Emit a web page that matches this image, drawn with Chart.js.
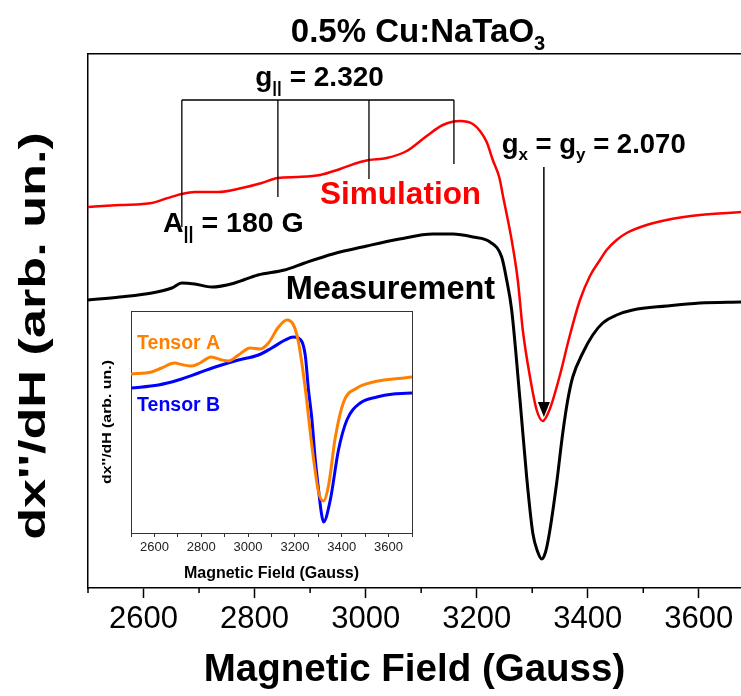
<!DOCTYPE html>
<html>
<head>
<meta charset="utf-8">
<title>0.5% Cu:NaTaO3 EPR</title>
<script src="https://cdn.jsdelivr.net/npm/chart.js@4.4.1/dist/chart.umd.min.js"></script>
<style>
  html, body { margin: 0; padding: 0; background: #fff; overflow: hidden; }
  #wrap { position: relative; width: 741px; height: 696px; }
  #mainChart { position: absolute; left: 0; top: 0; }
  #insetChart { position: absolute; left: 95px; top: 300px; }
</style>
</head>
<body>
<div id="wrap">
  <canvas id="mainChart" width="741" height="696"></canvas>
  <canvas id="insetChart" width="330" height="290"></canvas>
</div>
<script>
const FONT = '"Liberation Sans", Arial, Helvetica, sans-serif';

// main panel: field in gauss, signal in arb. un. (traces stacked)
const simField = [2500, 2557, 2615, 2638, 2669, 2692, 2734, 2777, 2813, 2842, 2878, 2918, 2954, 2990, 3006,
  3038, 3074, 3110, 3139, 3170, 3193, 3206, 3218, 3229, 3241, 3247, 3263, 3274, 3283, 3296,
  3308, 3319, 3331, 3349, 3367, 3386, 3404, 3422, 3434, 3452, 3470, 3506, 3542, 3602, 3676];
const simSignal = [38.1, 38.3, 38.5, 38.9, 39.4, 39.6, 39.6, 40.0, 40.5, 41.0, 41.1, 41.3, 41.9, 42.6, 42.8,
  43.0, 43.7, 45.2, 46.3, 46.7, 46.4, 45.7, 44.6, 42.8, 41.0, 39.3, 34.8, 30.8, 25.8, 21.1,
  17.8, 16.7, 17.8, 21.1, 25.1, 28.8, 31.2, 32.8, 33.8, 34.8, 35.5, 36.3, 36.8, 37.3, 37.6];

const measField = [2500, 2557, 2615, 2651, 2669, 2692, 2723, 2764, 2806, 2854, 2890, 2941, 3002, 3061, 3121,
  3157, 3193, 3224, 3245, 3254, 3263, 3278, 3290, 3301, 3310, 3317, 3324, 3331, 3344, 3355,
  3364, 3373, 3391, 3409, 3427, 3452, 3481, 3542, 3602, 3676];
const measSignal = [28.8, 29.1, 29.5, 30.0, 30.5, 30.4, 30.1, 30.5, 31.3, 31.8, 32.5, 33.4, 34.2, 34.9, 35.4,
  35.4, 35.1, 34.6, 33.1, 30.8, 27.8, 18.8, 11.1, 5.5, 3.6, 2.9, 3.6, 5.5, 10.5, 15.5,
  18.8, 21.1, 23.5, 25.3, 26.5, 27.3, 27.8, 28.2, 28.5, 28.6];

const fieldTicks = [2600, 2800, 3000, 3200, 3400, 3600];
const fieldMinorTicks = [2500, 2700, 2900, 3100, 3300, 3500];

// inset: the two tensor components
const tensorAField = [2500, 2588, 2631, 2685, 2724, 2760, 2795, 2842, 2888, 2916, 2959, 3009, 3052, 3087, 3130,
  3166, 3194, 3215, 3244, 3272, 3301, 3322, 3344, 3372, 3408, 3465, 3536, 3621, 3700];
const tensorASignal = [15.9, 16.1, 16.5, 17.0, 16.8, 16.7, 17.0, 17.6, 17.3, 17.2, 17.8, 18.5, 18.4, 19.0, 20.6,
  21.3, 20.8, 19.1, 14.5, 8.8, 4.1, 3.2, 4.8, 9.5, 13.1, 14.5, 15.1, 15.4, 15.6];

const tensorBField = [2500, 2617, 2702, 2788, 2873, 2959, 3044, 3101, 3158, 3194, 3215, 3244, 3258, 3272, 3287,
  3301, 3313, 3322, 3351, 3386, 3422, 3479, 3550, 3621, 3700];
const tensorBSignal = [14.5, 14.8, 15.3, 16.0, 16.7, 17.3, 17.8, 18.5, 19.3, 19.6, 19.5, 17.8, 14.3, 11.5, 7.3,
  4.3, 2.0, 1.1, 3.3, 8.3, 11.3, 13.0, 13.6, 13.9, 14.0];

const insetTicks = [2500, 2600, 2700, 2800, 2900, 3000, 3100, 3200, 3300, 3400, 3500, 3600, 3700];

// g|| hyperfine quartet and the perpendicular line
const hfLines = [2669, 2842, 3006, 3159];
const hfLineEnds = [36.1, 39.1, 40.9, 42.4];
const hfBracket = 48.8;
const gPerpField = 3321;

const Y_TITLE = "dx''/dH (arb. un.)";

const toPoints = (xs, ys) => xs.map((x, i) => ({ x, y: ys[i] }));

// text with subscripts, parts = [[text, isSub], ...]
function richText(ctx, parts, x, y, size, color, align) {
  ctx.save();
  ctx.fillStyle = color;
  ctx.textBaseline = 'alphabetic';
  ctx.textAlign = 'left';
  const subSize = Math.round(size * 0.62);
  const widths = parts.map(([t, sub]) => {
    ctx.font = `bold ${sub ? subSize : size}px ${FONT}`;
    return ctx.measureText(t).width;
  });
  const total = widths.reduce((a, b) => a + b, 0);
  let cx = align === 'center' ? x - total / 2 : x;
  parts.forEach(([t, sub], i) => {
    ctx.font = `bold ${sub ? subSize : size}px ${FONT}`;
    ctx.fillText(t, cx, sub ? y + size * 0.24 : y);
    cx += widths[i];
  });
  ctx.restore();
}

// rotated axis caption, widened along the reading direction
function sideTitle(ctx, text, cx, cy, size, stretch) {
  ctx.save();
  ctx.translate(cx, cy);
  ctx.rotate(-Math.PI / 2);
  ctx.scale(stretch, 1);
  ctx.font = `bold ${size}px ${FONT}`;
  ctx.fillStyle = '#000';
  ctx.textAlign = 'center';
  ctx.textBaseline = 'middle';
  ctx.fillText(text, 0, 0);
  ctx.restore();
}

const spectrumNotes = {
  id: 'spectrumNotes',
  afterDraw(chart) {
    const { ctx, scales: { x, y } } = chart;
    ctx.save();
    ctx.strokeStyle = '#000';
    ctx.fillStyle = '#000';

    // minor ticks on the field axis
    ctx.lineWidth = 1.5;
    ctx.beginPath();
    fieldMinorTicks.forEach(v => {
      const px = x.getPixelForValue(v);
      ctx.moveTo(px, y.bottom);
      ctx.lineTo(px, y.bottom + 5);
    });
    ctx.stroke();

    // g|| bracket
    ctx.lineWidth = 1.3;
    const top = y.getPixelForValue(hfBracket);
    ctx.beginPath();
    ctx.moveTo(x.getPixelForValue(hfLines[0]), top);
    ctx.lineTo(x.getPixelForValue(hfLines[hfLines.length - 1]), top);
    hfLines.forEach((f, i) => {
      const px = x.getPixelForValue(f);
      ctx.moveTo(px, top);
      ctx.lineTo(px, y.getPixelForValue(hfLineEnds[i]));
    });
    ctx.stroke();

    // arrow to the perpendicular line
    const ax = x.getPixelForValue(gPerpField);
    const a0 = y.getPixelForValue(42.1);
    const a1 = y.getPixelForValue(17.1);
    ctx.lineWidth = 1.5;
    ctx.beginPath();
    ctx.moveTo(ax, a0);
    ctx.lineTo(ax, a1 - 12);
    ctx.stroke();
    ctx.beginPath();
    ctx.moveTo(ax, a1);
    ctx.lineTo(ax - 6, a1 - 15);
    ctx.lineTo(ax + 6, a1 - 15);
    ctx.closePath();
    ctx.fill();
    ctx.restore();

    sideTitle(ctx, Y_TITLE, 35, 336, 36, 1.45);

    richText(ctx, [['0.5% Cu:NaTaO', false], ['3', true]], 418, 42, 33, '#000', 'center');
    richText(ctx, [['g', false], ['||', true], [' = 2.320', false]],
      x.getPixelForValue(2917), y.getPixelForValue(50.2), 28, '#000', 'center');
    richText(ctx, [['A', false], ['||', true], [' = 180 G', false]],
      x.getPixelForValue(2635), y.getPixelForValue(35.6), 28.5, '#000', 'left');
    richText(ctx, [['g', false], ['x', true], [' = g', false], ['y', true], [' = 2.070', false]],
      x.getPixelForValue(3245), y.getPixelForValue(43.5), 27.5, '#000', 'left');
    richText(ctx, [['Simulation', false]],
      x.getPixelForValue(2918), y.getPixelForValue(38.4), 31.5, '#ff0000', 'left');
    richText(ctx, [['Measurement', false]],
      x.getPixelForValue(2856), y.getPixelForValue(28.9), 32.5, '#000', 'left');
  }
};

const tensorNotes = {
  id: 'tensorNotes',
  afterDraw(chart) {
    const { ctx, chartArea, scales: { x, y } } = chart;
    sideTitle(ctx, Y_TITLE, 12, (chartArea.top + chartArea.bottom) / 2, 13, 1.22);
    richText(ctx, [['Tensor A', false]], x.getPixelForValue(2526), y.getPixelForValue(18.4), 19.5, '#ff8000', 'left');
    richText(ctx, [['Tensor B', false]], x.getPixelForValue(2526), y.getPixelForValue(12.2), 19.5, '#0000ff', 'left');
  }
};

Chart.defaults.font.family = FONT;
Chart.defaults.color = '#000';

const frameAxis = (position, min, max, color, width) => ({
  type: 'linear', position, min, max,
  ticks: { display: false },
  grid: { display: false, drawTicks: false },
  border: { display: true, color, width },
  afterFit: s => { if (s.isHorizontal()) s.height = 0; else s.width = 0; }
});

new Chart(document.getElementById('mainChart'), {
  type: 'line',
  data: {
    datasets: [
      { label: 'Simulation', data: toPoints(simField, simSignal), borderColor: '#ff0000', borderWidth: 2.5 },
      { label: 'Measurement', data: toPoints(measField, measSignal), borderColor: '#000000', borderWidth: 3 }
    ]
  },
  options: {
    responsive: false,
    animation: false,
    layout: { padding: { top: 54, left: 0, right: 0, bottom: 0 } },
    elements: {
      point: { radius: 0 },
      line: { cubicInterpolationMode: 'monotone', fill: false }
    },
    plugins: { legend: { display: false }, tooltip: { enabled: false } },
    scales: {
      x: {
        type: 'linear', position: 'bottom', min: 2500, max: 3676,
        afterBuildTicks: s => { s.ticks = fieldTicks.map(v => ({ value: v })); },
        afterFit: s => { s.height = 108; },
        grid: { display: true, drawOnChartArea: false, drawTicks: true, tickLength: 10, tickWidth: 1.5, tickColor: '#000' },
        border: { display: true, color: '#000', width: 1.5 },
        ticks: { color: '#000', font: { size: 31 }, padding: 3, maxRotation: 0, autoSkip: false, callback: v => String(v) },
        title: {
          display: true, text: 'Magnetic Field (Gauss)', color: '#000',
          font: { size: 38.5, weight: 'bold' }, padding: { top: 0, bottom: 3 }
        }
      },
      xTop: frameAxis('top', 2500, 3676, '#000', 1.5),
      y: {
        type: 'linear', position: 'left', min: 0, max: 53.4,
        ticks: { display: false },
        grid: { display: false, drawTicks: false },
        border: { display: true, color: '#000', width: 1.5 },
        afterFit: s => { s.width = 88; }
      }
    }
  },
  plugins: [spectrumNotes]
});

new Chart(document.getElementById('insetChart'), {
  type: 'line',
  data: {
    datasets: [
      { label: 'Tensor A', data: toPoints(tensorAField, tensorASignal), borderColor: '#ff8000', borderWidth: 3 },
      { label: 'Tensor B', data: toPoints(tensorBField, tensorBSignal), borderColor: '#0000ff', borderWidth: 3 }
    ]
  },
  options: {
    responsive: false,
    animation: false,
    layout: { padding: { top: 11, left: 0, right: 13, bottom: 0 } },
    elements: {
      point: { radius: 0 },
      line: { cubicInterpolationMode: 'monotone', fill: false }
    },
    plugins: { legend: { display: false }, tooltip: { enabled: false } },
    scales: {
      x: {
        type: 'linear', position: 'bottom', min: 2500, max: 3700,
        afterBuildTicks: s => { s.ticks = insetTicks.map(v => ({ value: v })); },
        afterFit: s => { s.height = 57; },
        grid: { display: true, drawOnChartArea: false, drawTicks: true, tickLength: 4, tickWidth: 1, tickColor: '#333' },
        border: { display: true, color: '#333', width: 1 },
        ticks: { color: '#222', font: { size: 13 }, padding: 3, maxRotation: 0, autoSkip: false,
          callback: v => (v % 200 === 0 ? String(v) : '') },
        title: {
          display: true, text: 'Magnetic Field (Gauss)', color: '#000',
          font: { size: 16, weight: 'bold' }, padding: { top: 0, bottom: 7 }
        }
      },
      xTop: frameAxis('top', 2500, 3700, '#333', 1),
      y: {
        type: 'linear', position: 'left', min: 0, max: 22.2,
        ticks: { display: false },
        grid: { display: false, drawTicks: false },
        border: { display: true, color: '#333', width: 1 },
        afterFit: s => { s.width = 36; }
      },
      yRight: frameAxis('right', 0, 22.2, '#333', 1)
    }
  },
  plugins: [tensorNotes]
});
</script>
</body>
</html>
